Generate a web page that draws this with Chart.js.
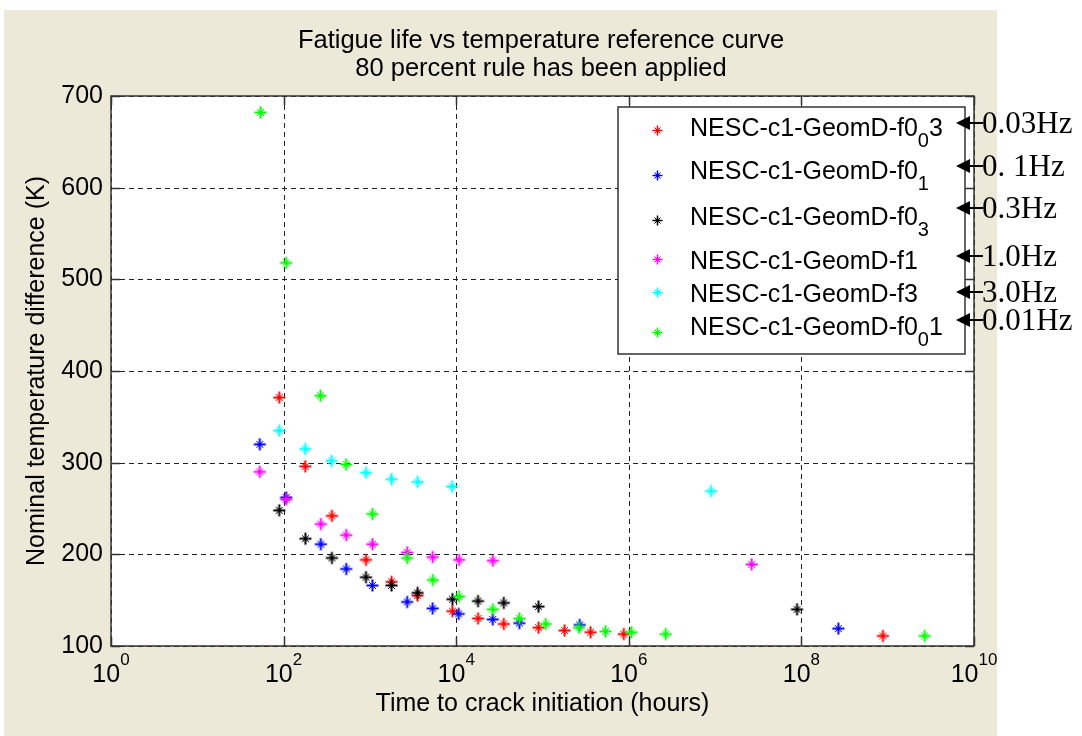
<!DOCTYPE html>
<html>
<head>
<meta charset="utf-8">
<script src="https://cdn.jsdelivr.net/npm/chart.js@4.4.1/dist/chart.umd.min.js"></script>
<style>
  html, body { margin: 0; padding: 0; background: #ffffff; }
  #wrap { width: 1082px; height: 736px; }
</style>
</head>
<body>
<div id="wrap"><canvas id="chart" width="1082" height="736"></canvas></div>
<script>
// values (x = hours, y = K)
const f003X = [89, 178, 363, 900, 1780, 3560, 9040, 17900, 35600, 90000, 180000, 360000, 875000, 8.8e8];
const f003Y = [371, 296, 242, 194, 170, 155, 138, 130, 124, 120, 117, 115, 113, 111];

const f01X = [53, 107, 270, 532, 1070, 2700, 5340, 10700, 26500, 54000, 270000, 2.68e8];
const f01Y = [320, 262, 211, 184, 166, 148, 141, 135, 129, 125, 123, 119];

const f03X = [89, 179, 363, 900, 1780, 3570, 9040, 17900, 35600, 90000, 8.9e7];
const f03Y = [248, 217, 196, 175, 166, 158, 151, 149, 147, 143, 140];

const f1X = [53, 107, 270, 532, 1070, 2700, 5340, 10800, 26600, 2.65e7];
const f1Y = [290, 260, 233, 221, 211, 202, 197, 194, 193, 189];

const f3X = [89, 178, 360, 900, 1780, 3570, 8960, 8.96e6];
const f3Y = [335, 315, 302, 289, 282, 279, 274, 269];

const f001X = [54, 107, 267, 530, 1070, 2700, 5350, 10800, 26600, 54000, 109000, 265000, 537000, 1.07e6, 2.68e6, 2.68e9];
const f001Y = [682, 518, 373, 298, 244, 196, 172, 154, 140, 130, 124, 120, 116, 115, 113, 111];

const seriesLabels = ['NESC-c1-GeomD-f0_03', 'NESC-c1-GeomD-f0_1', 'NESC-c1-GeomD-f0_3',
                      'NESC-c1-GeomD-f1', 'NESC-c1-GeomD-f3', 'NESC-c1-GeomD-f0_01'];
const freqLabels = ['0.03Hz', '0. 1Hz', '0.3Hz', '1.0Hz', '3.0Hz', '0.01Hz'];
const colors = ['#ff0000', '#0000ff', '#000000', '#ff00ff', '#00ffff', '#00ff00'];

const xTickExps = [0, 2, 4, 6, 8, 10];
const yTicks = [100, 200, 300, 400, 500, 600, 700];

const titleLines = ['Fatigue life vs temperature reference curve', '80 percent rule has been applied'];
const xTitle = 'Time to crack initiation (hours)';
const yTitle = 'Nominal temperature difference (K)';

const FONT = '"Liberation Sans", Arial, sans-serif';
const SERIF = '"Liberation Serif", "Times New Roman", serif';
const BEIGE = '#ece9d8';
const AXIS = '#333333';

// matlab-like '*' marker: bold plus, short diagonals, dot in the middle
function starMarker(color, arm, diag, lw) {
  const c = document.createElement('canvas');
  const s = arm * 2 + 5;
  c.width = s; c.height = s;
  const g = c.getContext('2d');
  const m = Math.floor(s / 2) + 0.5;
  g.strokeStyle = color;
  g.lineWidth = lw;
  g.beginPath();
  g.moveTo(m - arm, m); g.lineTo(m + arm, m);
  g.moveTo(m, m - arm); g.lineTo(m, m + arm);
  g.stroke();
  g.lineWidth = 1;
  g.beginPath();
  g.moveTo(m - diag, m - diag); g.lineTo(m + diag, m + diag);
  g.moveTo(m - diag, m + diag); g.lineTo(m + diag, m - diag);
  g.stroke();
  g.fillStyle = color;
  g.beginPath(); g.arc(m, m, 2, 0, Math.PI * 2); g.fill();
  return c;
}

const allX = [f003X, f01X, f03X, f1X, f3X, f001X];
const allY = [f003Y, f01Y, f03Y, f1Y, f3Y, f001Y];

const datasets = allX.map((xs, i) => ({
  label: seriesLabels[i],
  data: xs.map((x, j) => ({ x: x, y: allY[i][j] })),
  pointStyle: starMarker(colors[i], 6, 3.5, 2),
  showLine: false,
  order: allX.length - i
}));

// draws "text_sub" style labels, underscore makes next char a subscript
function drawTexLabel(ctx, label, x, y, size) {
  let cx = x;
  for (let i = 0; i < label.length; i++) {
    let ch = label[i];
    if (ch === '_' && i + 1 < label.length) {
      ch = label[++i];
      ctx.font = (size * 0.8) + 'px ' + FONT;
      ctx.fillText(ch, cx, y + size * 0.45);
    } else {
      ctx.font = size + 'px ' + FONT;
      ctx.fillText(ch, cx, y);
    }
    cx += ctx.measureText(ch).width;
  }
}

const figurePlugin = {
  id: 'figure',
  beforeDraw(chart) {
    const ctx = chart.ctx, a = chart.chartArea;
    ctx.save();
    ctx.fillStyle = '#ffffff';
    ctx.fillRect(0, 0, chart.width, chart.height);
    ctx.fillStyle = BEIGE;
    ctx.fillRect(4, 10, 993, 726);
    ctx.fillStyle = '#ffffff';
    ctx.fillRect(a.left, a.top, a.right - a.left, a.bottom - a.top);
    ctx.restore();
  },
  beforeDatasetsDraw(chart) {
    const ctx = chart.ctx, a = chart.chartArea;
    const xs = chart.scales.x, ys = chart.scales.y;
    ctx.save();
    ctx.strokeStyle = '#222222';
    ctx.lineWidth = 1;
    ctx.setLineDash([5, 4]);
    xTickExps.forEach(e => {
      const px = Math.round(xs.getPixelForValue(Math.pow(10, e))) + 0.5;
      ctx.beginPath(); ctx.moveTo(px, a.top); ctx.lineTo(px, a.bottom); ctx.stroke();
    });
    yTicks.forEach(v => {
      const py = Math.round(ys.getPixelForValue(v)) + 0.5;
      ctx.beginPath(); ctx.moveTo(a.left, py); ctx.lineTo(a.right, py); ctx.stroke();
    });
    ctx.restore();
  },
  afterDatasetsDraw(chart) {
    const ctx = chart.ctx, a = chart.chartArea;
    const xs = chart.scales.x, ys = chart.scales.y;
    ctx.save();

    // axes box + inward ticks
    ctx.strokeStyle = AXIS;
    ctx.lineWidth = 1.5;
    ctx.strokeRect(a.left, a.top, a.right - a.left, a.bottom - a.top);
    const tl = 9;
    ctx.beginPath();
    xTickExps.forEach(e => {
      const px = Math.round(xs.getPixelForValue(Math.pow(10, e))) + 0.5;
      ctx.moveTo(px, a.bottom); ctx.lineTo(px, a.bottom - tl);
      ctx.moveTo(px, a.top); ctx.lineTo(px, a.top + tl);
    });
    yTicks.forEach(v => {
      const py = Math.round(ys.getPixelForValue(v)) + 0.5;
      ctx.moveTo(a.left, py); ctx.lineTo(a.left + tl, py);
      ctx.moveTo(a.right, py); ctx.lineTo(a.right - tl, py);
    });
    ctx.stroke();

    // tick labels
    ctx.fillStyle = '#000000';
    ctx.textBaseline = 'middle';
    ctx.textAlign = 'right';
    ctx.font = '25px ' + FONT;
    yTicks.forEach(v => {
      ctx.fillText(String(v), a.left - 8, ys.getPixelForValue(v));
    });
    ctx.textAlign = 'left';
    xTickExps.forEach(e => {
      const px = xs.getPixelForValue(Math.pow(10, e));
      ctx.font = '25px ' + FONT;
      const wBase = ctx.measureText('10').width;
      ctx.font = '17px ' + FONT;
      const wExp = ctx.measureText(String(e)).width;
      const x0 = px - (wBase + wExp) / 2;
      ctx.font = '25px ' + FONT;
      ctx.fillText('10', x0, a.bottom + 29);
      ctx.font = '17px ' + FONT;
      ctx.fillText(String(e), x0 + wBase, a.bottom + 14);
    });

    // titles
    ctx.textAlign = 'center';
    ctx.font = '25.5px ' + FONT;
    ctx.fillText(titleLines[0], 541, 41);
    ctx.fillText(titleLines[1], 541, 69);
    ctx.font = '25px ' + FONT;
    ctx.fillText(xTitle, (a.left + a.right) / 2, 704);
    ctx.save();
    ctx.translate(37, (a.top + a.bottom) / 2);
    ctx.rotate(-Math.PI / 2);
    ctx.fillText(yTitle, 0, 0);
    ctx.restore();

    // legend box
    const lg = { left: 618, top: 107, right: 965, bottom: 354 };
    ctx.fillStyle = '#ffffff';
    ctx.fillRect(lg.left, lg.top, lg.right - lg.left, lg.bottom - lg.top);
    ctx.strokeStyle = AXIS;
    ctx.lineWidth = 1.5;
    ctx.strokeRect(lg.left, lg.top, lg.right - lg.left, lg.bottom - lg.top);
    const markY = [130, 175, 220, 259, 292, 332];
    const baseY = [136, 179, 225, 269, 302, 335];
    ctx.textAlign = 'left';
    ctx.textBaseline = 'alphabetic';
    ctx.fillStyle = '#000000';
    seriesLabels.forEach((lab, i) => {
      const m = starMarker(colors[i], 5, 3, 1.5);
      ctx.drawImage(m, Math.round(657 - m.width / 2), Math.round(markY[i] - m.height / 2));
      ctx.fillStyle = '#000000';
      drawTexLabel(ctx, lab, 690, baseY[i], 25);
    });

    // frequency annotations with arrows
    const arrowY = [123, 166, 208, 256, 292, 320];
    ctx.strokeStyle = '#000000';
    ctx.fillStyle = '#000000';
    ctx.lineWidth = 2;
    ctx.font = '31px ' + SERIF;
    ctx.textBaseline = 'middle';
    freqLabels.forEach((t, i) => {
      const y = arrowY[i];
      ctx.beginPath(); ctx.moveTo(967, y); ctx.lineTo(983, y); ctx.stroke();
      ctx.beginPath(); ctx.moveTo(956, y); ctx.lineTo(970, y - 7); ctx.lineTo(970, y + 7); ctx.closePath(); ctx.fill();
      ctx.fillText(t, 982, y + 2);
    });

    ctx.restore();
  }
};

new Chart(document.getElementById('chart'), {
  type: 'scatter',
  data: { datasets: datasets },
  options: {
    responsive: false,
    animation: false,
    layout: { padding: { left: 103, right: 108, top: 96, bottom: 82 } },
    plugins: {
      legend: { display: false },
      tooltip: { enabled: false },
      title: { display: false }
    },
    scales: {
      x: {
        type: 'logarithmic', min: 1, max: 1e10,
        ticks: { display: false },
        grid: { display: false },
        border: { display: false }
      },
      y: {
        min: 100, max: 700,
        ticks: { display: false },
        grid: { display: false },
        border: { display: false }
      }
    }
  },
  plugins: [figurePlugin]
});
</script>
</body>
</html>
